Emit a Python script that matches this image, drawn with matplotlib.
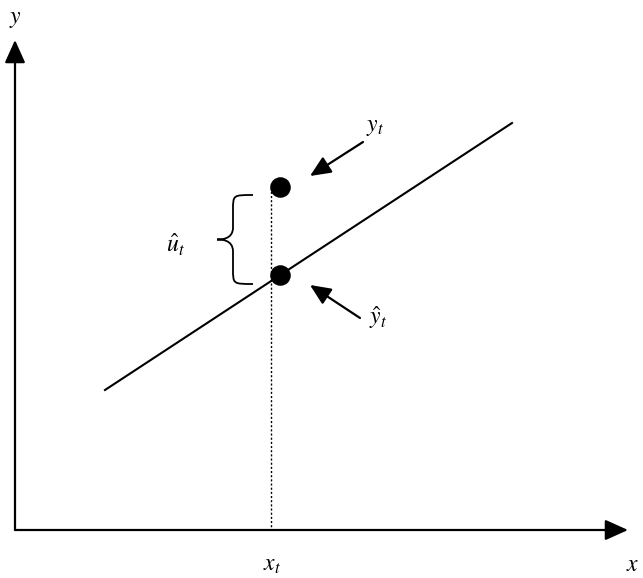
import matplotlib
matplotlib.use("Agg")
import matplotlib.pyplot as plt
from matplotlib.path import Path
from matplotlib.patches import PathPatch

plt.rcParams['mathtext.fontset'] = 'stix'

# Diagram coordinates (pixel-like space of the sketch)
origin = (15, 530)
x_axis_end = (628, 530)
y_axis_end = (15, 40)
fit_line_x = [105, 512]
fit_line_y = [390, 123]
point_x = [280, 280]
point_y = [187, 275]          # y_t, y_hat_t
dotted_x = 271
dotted_top = 183
labels = {
    "y": (15, 18, r"$y$"),
    "x": (633, 564, r"$x$"),
    "xt": (272, 564, r"$x_t$"),
    "yt": (375, 126, r"$y_t$"),
    "yhat": (378, 318, r"$\hat{y}_t$"),
    "uhat": (176, 245, r"$\hat{u}_t$"),
}
arrow_yt = ((363, 142), (310, 176))
arrow_yhat = ((360, 318), (310, 285))
brace = dict(x_end=253, x_mid=233, x_tip=217, top=195, bottom=284)

fig = plt.figure(figsize=(6.43, 5.78), dpi=100)
ax = fig.add_axes([0, 0, 1, 1])
ax.set_xlim(0, 643)
ax.set_ylim(578, 0)
ax.axis('off')

# axes arrows
akw = dict(arrowstyle='-|>,head_length=1.0,head_width=0.45', color='black', lw=1.6,
           shrinkA=0, shrinkB=0, mutation_scale=14)
ax.annotate('', xy=x_axis_end, xytext=origin, arrowprops=akw)
ax.annotate('', xy=y_axis_end, xytext=origin, arrowprops=akw)

# fitted line
ax.plot(fit_line_x, fit_line_y, color='black', lw=1.5)

# dotted vertical
ax.plot([dotted_x, dotted_x], [dotted_top, origin[1]], color='black', lw=1.0, ls=(0, (1.5, 1.5)))

# points
ax.scatter(point_x, point_y, s=190, color='black', zorder=5)

# small arrows
skw = dict(arrowstyle='-|>,head_length=0.9,head_width=0.4', color='black', lw=1.6,
           shrinkA=0, shrinkB=0, mutation_scale=14)
ax.annotate('', xy=arrow_yt[1], xytext=arrow_yt[0], arrowprops=skw)
ax.annotate('', xy=arrow_yhat[1], xytext=arrow_yhat[0], arrowprops=skw)

# brace
b = brace
mid = (b['top'] + b['bottom']) / 2
verts = [
    (b['x_end'], b['top']),
    (b['x_mid'], b['top']), (b['x_mid'], b['top']), (b['x_mid'], b['top'] + 15),
    (b['x_mid'], mid - 12),
    (b['x_mid'], mid), (b['x_tip'] + 4, mid), (b['x_tip'], mid),
    (b['x_tip'] + 4, mid), (b['x_mid'], mid), (b['x_mid'], mid + 12),
    (b['x_mid'], b['bottom'] - 15),
    (b['x_mid'], b['bottom']), (b['x_mid'], b['bottom']), (b['x_end'], b['bottom']),
]
codes = [Path.MOVETO,
         Path.CURVE4, Path.CURVE4, Path.CURVE4,
         Path.LINETO,
         Path.CURVE4, Path.CURVE4, Path.CURVE4,
         Path.CURVE4, Path.CURVE4, Path.CURVE4,
         Path.LINETO,
         Path.CURVE4, Path.CURVE4, Path.CURVE4]
ax.add_patch(PathPatch(Path(verts, codes), fill=False, lw=1.3, color='black'))

for key, (tx, ty, s) in labels.items():
    ax.text(tx, ty, s, fontsize=17, ha='center', va='center')

fig.savefig('out.png', dpi=100)
